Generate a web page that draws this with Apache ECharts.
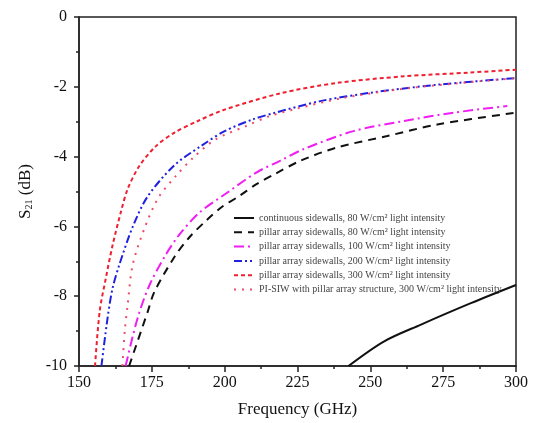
<!DOCTYPE html>
<html><head><meta charset="utf-8">
<script src="https://cdn.jsdelivr.net/npm/echarts@6/dist/echarts.min.js"></script>
<style>html,body{margin:0;padding:0;background:#fff}#c{width:538px;height:423px}</style>
</head><body><div id="c"></div>
<script>
var seriesNames = [
  'continuous sidewalls, 80 W/cm² light intensity',
  'pillar array sidewalls, 80 W/cm² light intensity',
  'pillar array sidewalls, 100 W/cm² light intensity',
  'pillar array sidewalls, 200 W/cm² light intensity',
  'pillar array sidewalls, 300 W/cm² light intensity',
  'PI-SIW with pillar array structure, 300 W/cm² light intensity'
];
var xTicks = [150, 175, 200, 225, 250, 275, 300];
var yTicks = [0, -2, -4, -6, -8, -10];

var contFreq = [242.5, 254.6, 267.2, 284.5, 300];
var contS21  = [-10, -9.30, -8.82, -8.2, -7.68];

var p80Freq = [167.2, 173.6, 175.9, 182.8, 187.9, 193.7, 198.9, 205.2, 210.9, 217.2, 226, 238.5, 255.8, 273, 300];
var p80S21  = [-10, -8.44, -7.87, -6.87, -6.31, -5.83, -5.45, -5.12, -4.79, -4.50, -4.12, -3.74, -3.41, -3.08, -2.74];

var p100Freq = [166, 170.1, 174.1, 179.5, 184.5, 191.4, 200.6, 211, 219, 227, 244.2, 261.5, 278.7, 297];
var p100S21  = [-10, -8.63, -7.7, -6.85, -6.23, -5.6, -5.05, -4.45, -4.12, -3.79, -3.27, -2.98, -2.74, -2.55];

var p200Freq = [157.7, 159.8, 161.5, 163.8, 168.4, 173.5, 182.7, 192, 200, 209.8, 217, 232.8, 250, 273, 300];
var p200S21  = [-10, -8.63, -7.78, -7.11, -6.02, -5.15, -4.25, -3.69, -3.27, -2.93, -2.75, -2.41, -2.17, -1.94, -1.75];

var p300Freq = [155.5, 157.1, 159.2, 161.5, 164.4, 166.7, 170.7, 176.4, 182.8, 190.8, 199.4, 219, 238.5, 261.5, 284.5, 300];
var p300S21  = [-10, -8.43, -7.49, -6.55, -5.58, -4.93, -4.27, -3.70, -3.31, -2.98, -2.67, -2.19, -1.89, -1.70, -1.59, -1.51];

var piFreq = [164.9, 165.7, 166.7, 168.4, 172.5, 177.3, 183.3, 189.6, 197, 207.5, 215.5, 225, 240, 260, 280, 300];
var piS21  = [-10, -9, -8.25, -7.11, -6.05, -5.17, -4.55, -4.0, -3.5, -3.12, -2.84, -2.62, -2.33, -2.07, -1.9, -1.75];

function pairs(xs, ys){ return xs.map(function(x,i){ return [x, ys[i]]; }); }

var styles = [
  {color:'#111111', type:'solid', width:2},
  {color:'#111111', type:[8,6], width:2},
  {color:'#f01ef0', type:[10,4,2,4], width:2},
  {color:'#2020e0', type:[8,3,2,3,2,3], width:2},
  {color:'#ee2030', type:[4,3], width:2},
  {color:'#f04a6a', type:[2,6], width:2}
];
var datas = [
  pairs(contFreq, contS21), pairs(p80Freq, p80S21), pairs(p100Freq, p100S21),
  pairs(p200Freq, p200S21), pairs(p300Freq, p300S21), pairs(piFreq, piS21)
];

var font = '"Liberation Serif", "Times New Roman", serif';
var chart = echarts.init(document.getElementById('c'));
chart.setOption({
  animation: false,
  backgroundColor: '#fff',
  grid: {left: 79, right: 22, top: 17, bottom: 55, show: true, borderColor: '#222', borderWidth: 1.5, backgroundColor: 'transparent'},
  legend: {
    orient: 'vertical', left: 228, top: 208, itemWidth: 20, itemHeight: 10, itemGap: 4.3,
    data: seriesNames,
    itemStyle: {opacity: 0},
    textStyle: {fontFamily: font, fontSize: 10, color: '#444'}
  },
  xAxis: {
    type: 'value', min: 150, max: 300, interval: 25,
    name: 'Frequency (GHz)', nameLocation: 'middle', nameGap: 35,
    nameTextStyle: {fontFamily: font, fontSize: 17, color: '#111'},
    axisLine: {onZero: false, lineStyle: {color: '#222', width: 1.5}},
    axisTick: {show: true, inside: false, length: 6, lineStyle: {width: 1.5}},
    minorTick: {show: true, splitNumber: 2, length: 3, lineStyle: {color: '#222', width: 1.5}},
    splitLine: {show: false},
    axisLabel: {fontFamily: font, fontSize: 16, color: '#111', margin: 9,
      formatter: function(v){ return xTicks.indexOf(v) >= 0 ? String(v) : ''; }}
  },
  yAxis: {
    type: 'value', min: -10, max: 0, interval: 2,
    name: 'S{sub|21} (dB)', nameLocation: 'middle', nameGap: 34, nameRotate: 90,
    nameTextStyle: {fontFamily: font, fontSize: 17, color: '#111',
      rich: {sub: {fontFamily: font, fontSize: 10, color: '#111', verticalAlign: 'bottom', padding: [8,0,0,0]}}},
    axisLine: {show: true, onZero: false, lineStyle: {color: '#222', width: 1.5}},
    axisTick: {show: true, inside: false, length: 5, lineStyle: {width: 1.5}},
    minorTick: {show: true, splitNumber: 2, length: 3, lineStyle: {color: '#222', width: 1.5}},
    splitLine: {show: false},
    axisLabel: {fontFamily: font, fontSize: 16, color: '#111', margin: 12,
      formatter: function(v){ return yTicks.indexOf(v) >= 0 ? String(v) : ''; }}
  },
  series: datas.map(function(d, i){
    return {
      name: seriesNames[i], type: 'line', data: d, smooth: 0.3, showSymbol: false, symbol: 'none',
      clip: true,
      lineStyle: {color: styles[i].color, type: styles[i].type, width: styles[i].width},
      itemStyle: {color: styles[i].color}
    };
  })
});
</script></body></html>
